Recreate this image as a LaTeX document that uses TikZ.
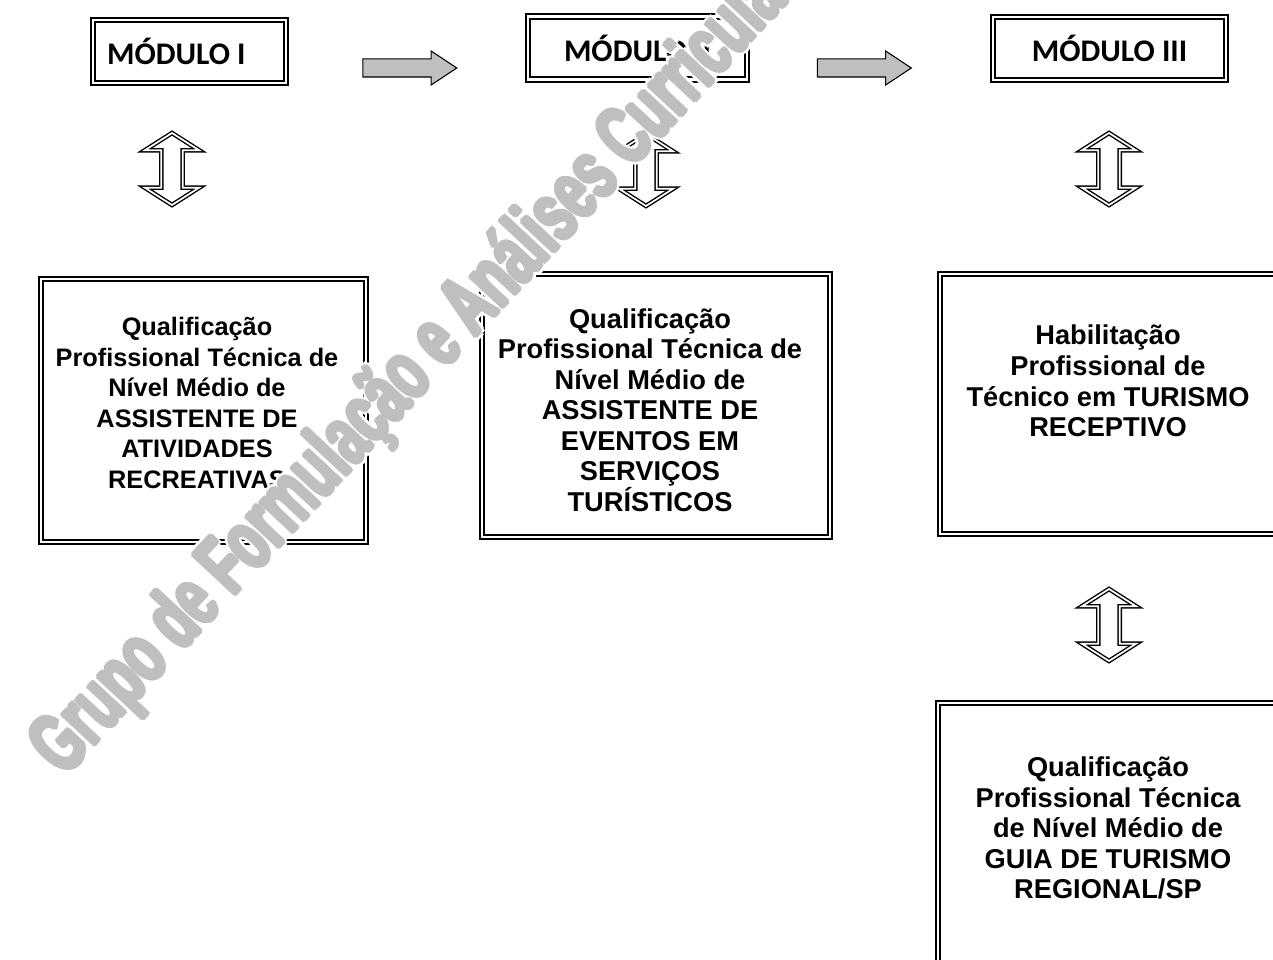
\documentclass[tikz,border=0pt]{standalone}
\usepackage{fontspec}
\usepackage{graphicx}
\newfontfamily\modfont{Carlito}
\newfontfamily\txtfont{Liberation Sans}
\usetikzlibrary{shapes.arrows,calc}
\def\wmtext{\scalebox{0.62}[1]{Grupo de Formulação e Análises Curriculares}}
\tikzset{
	dbl/.style={draw, double, line width=1.1pt, double distance=0.05cm},
	modbox/.style={dbl, inner sep=0pt, minimum height=1.26cm, font=\modfont\bfseries\fontsize{17.9}{20}\selectfont},
	qualbox/.style={dbl, inner sep=0pt},
	qualtext/.style={align=center, inner sep=0pt, font=\txtfont\bfseries\fontsize{15.5}{17.4}\selectfont},
	grayarrow/.style={single arrow, draw, fill=black!25, line width=0.6pt, minimum height=1.88cm, minimum width=0.66cm, inner xsep=0pt, inner ysep=0.17cm, single arrow head extend=0.16cm, single arrow tip angle=67},
	updown/.style={double arrow, draw, double, line width=0.8pt, double distance=0.035cm, rotate=90, minimum height=1.44cm, minimum width=1.0cm, inner xsep=0pt, inner ysep=0.2cm, double arrow head extend=0.33cm, double arrow tip angle=115},
	wmark/.style={rotate=47, inner sep=0pt, font=\txtfont\bfseries\fontsize{48}{48}\selectfont}
}

\begin{document}
\begin{tikzpicture}[x=0.02cm, y=-0.02cm]
	%%%%% START %%%%%
	\clip (0,0) rectangle (1273,959);
	\fill[white] (0,0) rectangle (1273,959);
	
	% modules
	\node[modbox, text width=3.3cm, inner xsep=0.28cm, align=flush left] (m1) at (189.5,51.5) {MÓDULO I};
	\node[modbox, minimum width=4.38cm] (m2) at (637.5,48) {MÓDULO II};
	\node[modbox, minimum width=4.66cm] (m3) at (1109.5,48.5) {MÓDULO III};
	
	\node[grayarrow] (a12) at (403,68) {};
	\node[grayarrow] (a23) at (857.5,68) {};
	
	\node[updown] (ud1) at (172,169) {};
	\node[updown] (ud2) at (646,170) {};
	\node[updown] (ud3) at (1109,169) {};
	\node[updown] (ud4) at (1109,625) {};
	
	% qualification boxes
	\node[qualbox, minimum width=6.5cm, minimum height=5.26cm] (b1) at (203.5,410.5) {};
	\node[qualbox, minimum width=6.96cm, minimum height=5.26cm] (b2) at (656,405.5) {};
	\node[qualbox, minimum width=6.74cm, minimum height=5.2cm] (b3) at (1108.5,404) {};
	\node[qualbox, minimum width=6.82cm, minimum height=5.48cm] (b4) at (1108.5,840) {};
	
	\node[qualtext, font=\txtfont\bfseries\fontsize{14.4}{17.4}\selectfont] (t1) at (197,403) {Qualificação\\Profissional Técnica de\\Nível Médio de\\ASSISTENTE DE\\ATIVIDADES\\RECREATIVAS};
	\node[qualtext] (t2) at (650,410) {Qualificação\\Profissional Técnica de\\Nível Médio de\\ASSISTENTE DE\\EVENTOS EM\\SERVIÇOS\\TURÍSTICOS};
	\node[qualtext] (t3) at (1108,381) {Habilitação\\Profissional de\\Técnico em TURISMO\\RECEPTIVO};
	\node[qualtext] (t4) at (1108,828) {Qualificação\\Profissional Técnica\\de Nível Médio de\\GUIA DE TURISMO\\REGIONAL/SP};
	
	% watermark
	\coordinate (wmc) at (437,346);
	\foreach \dx/\dy [count=\k] in {2.6/0,-2.6/0,0/2.6,0/-2.6,1.85/1.85,-1.85/1.85,1.85/-1.85,-1.85/-1.85}
		\node[wmark, text=white] (halo\k) at ([xshift=\dx pt, yshift=\dy pt]wmc) {\wmtext};
	\foreach \dx/\dy [count=\k] in {1.1/0,-1.1/0,0/1.1,0/-1.1,0.8/0.8,-0.8/0.8,0.8/-0.8,-0.8/-0.8}
		\node[wmark, text=black!25] (bold\k) at ([xshift=\dx pt, yshift=\dy pt]wmc) {\wmtext};
	\node[wmark, text=black!25] (wm) at (wmc) {\wmtext};
	%%%%% END %%%%%
\end{tikzpicture}
\end{document}
